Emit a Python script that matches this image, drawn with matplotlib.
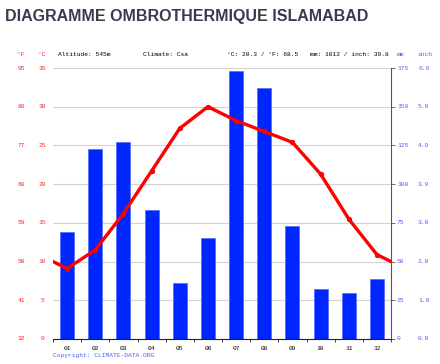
import numpy as np
import matplotlib
matplotlib.use('Agg')
from matplotlib import pyplot as plt

# monthly data, Islamabad
months = ['01', '02', '03', '04', '05', '06', '07', '08', '09', '10', '11', '12']
temp_c = [9.1, 11.5, 16.2, 21.7, 27.2, 30.0, 28.2, 26.8, 25.4, 21.3, 15.5, 10.9]
precip_mm = [69, 123, 127, 83, 36, 65, 173, 162, 73, 32, 30, 39]

c_ticks = [0, 5, 10, 15, 20, 25, 30, 35]
f_labels = ['32', '41', '50', '59', '68', '77', '86', '95']
mm_ticks = [0, 25, 50, 75, 100, 125, 150, 175]
inch_labels = ['0.0', '1.0', '2.0', '3.0', '3.9', '4.9', '5.9', '6.9']

RED = '#ff2020'
BLUE_TXT = '#4a5cff'
MONO = 'Liberation Mono'
FS = 4.5

fig = plt.figure(figsize=(4.40, 3.64), dpi=100)
ax = fig.add_axes([53/440, 1-339/364, 338/440, 271/364])
ax2 = ax.twinx()

x = np.arange(1, 13)
ax2.bar(x, precip_mm, width=0.5, color='#0026ff', edgecolor='#5a70ff', linewidth=0.6, zorder=2)
ax2.set_ylim(0, 175)

# temperature line, wrapped to the edges
edge = (temp_c[0] + temp_c[-1]) / 2
xl = np.concatenate([[0.5], x, [12.5]])
yl = [edge] + temp_c + [edge]
ax.plot(xl, yl, color='#ff0000', linewidth=2.4, zorder=5, solid_joinstyle='round')
ax.plot(x, temp_c, 'o', color='#ff0000', markersize=2.8, zorder=6)

ax.set_xlim(0.5, 12.5)
ax.set_ylim(0, 35)
ax.set_zorder(ax2.get_zorder() + 1)
ax.patch.set_visible(False)

for c in c_ticks[1:]:
    ax2.axhline(c * 5, color='#d4d4d4', linewidth=0.8, zorder=0)

for a in (ax, ax2):
    for s in ('top', 'left'):
        a.spines[s].set_visible(False)
ax.spines['right'].set_visible(False)
ax2.spines['right'].set_color('#555555')
ax2.spines['right'].set_linewidth(0.8)
ax.spines['bottom'].set_color('#222222')
ax.spines['bottom'].set_linewidth(0.8)
ax2.spines['bottom'].set_visible(False)

ax.set_yticks(c_ticks)
ax.set_yticklabels([])
ax.tick_params(axis='y', length=0)
ax.set_xticks(x)
ax.set_xticklabels(months, fontsize=FS, family=MONO)
ax.set_xticks(np.arange(0.5, 13, 1), minor=True)
ax.tick_params(axis='x', which='major', length=0, pad=5)
ax.tick_params(axis='x', which='minor', length=2, color='#222222', width=0.6)

ax2.set_yticks(mm_ticks)
ax2.set_yticklabels([])
ax2.tick_params(axis='y', length=3, color='#555555', width=0.6)

ty = ax.get_yaxis_transform()
for c, f in zip(c_ticks, f_labels):
    ax.text((42 - 53)/338, c, str(c), transform=ty, ha='center', va='center', fontsize=FS, family=MONO, color=RED)
    ax.text((21 - 53)/338, c, f, transform=ty, ha='center', va='center', fontsize=FS, family=MONO, color=RED)
ty2 = ax2.get_yaxis_transform()
for m, i in zip(mm_ticks, inch_labels):
    ax2.text(1 + 6/338, m, str(m), transform=ty2, ha='left', va='center', fontsize=FS, family=MONO, color=BLUE_TXT)
    ax2.text(1 + 27/338, m, i, transform=ty2, ha='left', va='center', fontsize=FS, family=MONO, color=BLUE_TXT)

# header row
hy = 1 - 55/364
fig.text(21/440, hy, '°F', ha='center', va='center', fontsize=FS, family=MONO, color=RED)
fig.text(42/440, hy, '°C', ha='center', va='center', fontsize=FS, family=MONO, color=RED)
fig.text(58/440, hy, 'Altitude: 545m', ha='left', va='center', fontsize=FS, family=MONO)
fig.text(143/440, hy, 'Climate: Csa', ha='left', va='center', fontsize=FS, family=MONO)
fig.text(227/440, hy, '°C: 20.3 / °F: 68.5', ha='left', va='center', fontsize=FS, family=MONO)
fig.text(310/440, hy, 'mm: 1012 / inch: 39.8', ha='left', va='center', fontsize=FS, family=MONO)
fig.text(397/440, hy, 'mm', ha='left', va='center', fontsize=FS, family=MONO, color=BLUE_TXT)
fig.text(418/440, hy, 'inch', ha='left', va='center', fontsize=FS, family=MONO, color=BLUE_TXT)

fig.text(5/440, 1 - 17/364, 'DIAGRAMME OMBROTHERMIQUE ISLAMABAD', ha='left', va='center',
         fontsize=11.5, fontweight='bold', family='Liberation Sans', color='#3b3a4d')
fig.text(53/440, 1 - 355/364, 'Copyright: CLIMATE-DATA.ORG', ha='left', va='center',
         fontsize=FS, family=MONO, color=BLUE_TXT)

fig.savefig('out.png', dpi=100)
